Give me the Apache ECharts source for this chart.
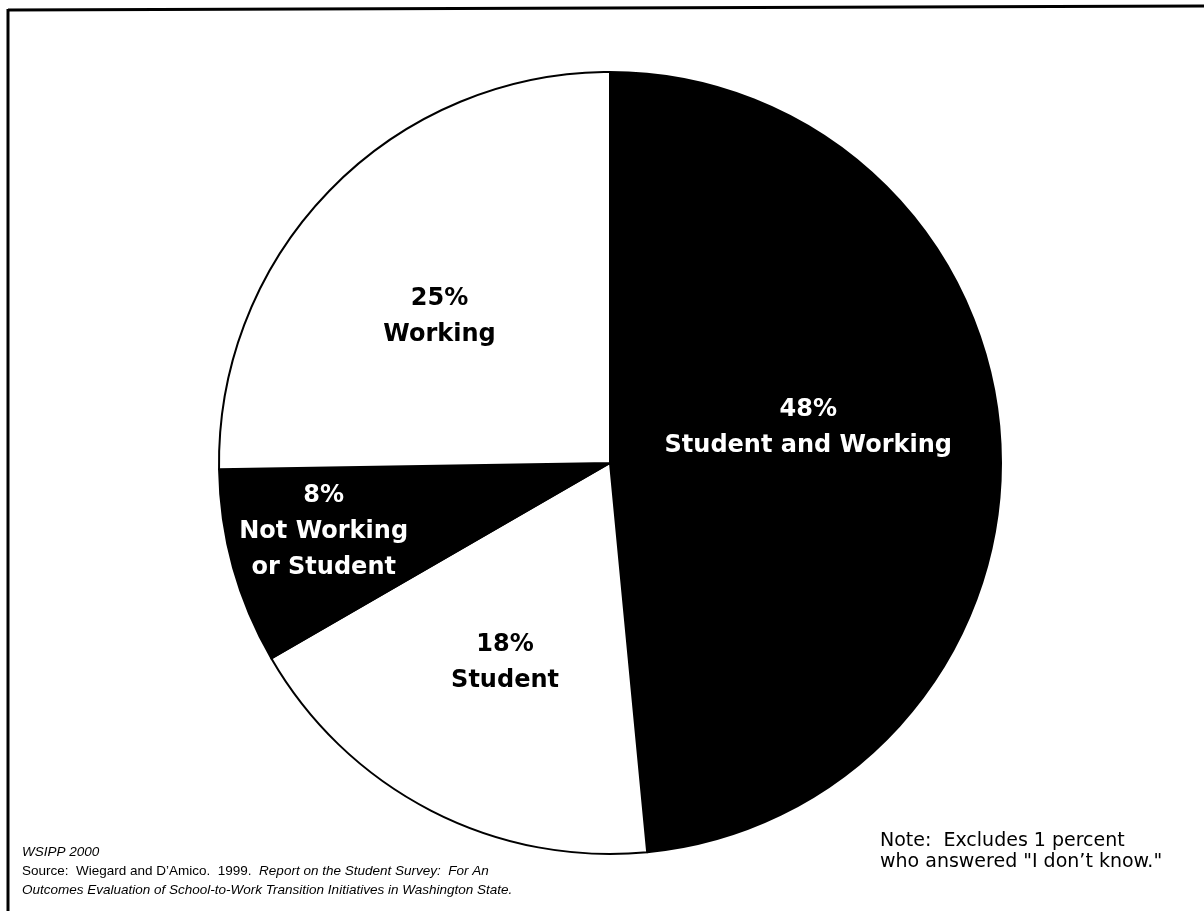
<!DOCTYPE html>
<html>
<head>
<meta charset="utf-8">
<script src="https://cdn.jsdelivr.net/npm/echarts@6/dist/echarts.min.js"></script>
<style>
  html, body { margin: 0; padding: 0; background: #fff; }
  #chart { width: 1204px; height: 911px; }
</style>
</head>
<body>
<div id="chart"></div>
<script>
// Post-program status of surveyed students (percent); 1 percent "don't know" excluded.
const categories = ['Student and Working', 'Student', 'Not Working\nor Student', 'Working'];
const percents = [48, 18, 8, 25];
const sliceFills = ['#000000', '#ffffff', '#000000', '#ffffff'];
const labelColors = ['#ffffff', '#000000', '#ffffff', '#000000'];
// nudges from the default inside-label anchor, per slice
const labelNudges = [[0, -26], [-14, 23], [-95, 16], [-29, -7]];

const noteLines = ['Note:  Excludes 1 percent', 'who answered "I don\u2019t know."'];
const creditLine = 'WSIPP 2000';
const sourcePlain = 'Source:  Wiegard and D\u2019Amico.  1999.  ';
const sourceItalic1 = 'Report on the Student Survey:  For An';
const sourceItalic2 = 'Outcomes Evaluation of School-to-Work Transition Initiatives in Washington State.';

const FONT = '"Liberation Sans", Arial, Helvetica, sans-serif';
const WIDE = '"DejaVu Sans", "Liberation Sans", Arial, sans-serif';

const chart = echarts.init(document.getElementById('chart'), null, { renderer: 'canvas' });

const pieData = categories.map((name, i) => ({
  name: name,
  value: percents[i],
  itemStyle: { color: sliceFills[i] },
  label: {
    color: labelColors[i],
    offset: labelNudges[i]
  }
}));

chart.setOption({
  animation: false,
  backgroundColor: '#ffffff',
  series: [{
    type: 'pie',
    center: [610, 463],
    radius: 391,
    startAngle: 90,
    clockwise: true,
    avoidLabelOverlap: false,
    silent: true,
    itemStyle: { borderColor: '#000000', borderWidth: 2 },
    label: {
      show: true,
      position: 'inside',
      fontFamily: WIDE,
      fontWeight: 'bold',
      fontSize: 24,
      lineHeight: 36,
      align: 'center',
      formatter: p => p.value + '%\n' + p.name
    },
    labelLine: { show: false },
    data: pieData
  }],
  graphic: [
    // frame edges
    { type: 'line', shape: { x1: 8, y1: 10, x2: 1204, y2: 6 }, style: { stroke: '#000', lineWidth: 3 } },
    { type: 'line', shape: { x1: 8, y1: 9, x2: 8, y2: 911 }, style: { stroke: '#000', lineWidth: 3 } },
    // note, lower right
    {
      type: 'text', left: 880, top: 831,
      style: { text: noteLines.join('\n'), font: '19px ' + WIDE, fill: '#000', lineHeight: 21 }
    },
    // credit and source, lower left
    {
      type: 'text', left: 22, top: 845,
      style: {
        text: '{i|' + creditLine + '}\n{n|' + sourcePlain + '}{i|' + sourceItalic1 + '}\n{i|' + sourceItalic2 + '}',
        fill: '#000',
        rich: {
          n: { fontFamily: FONT, fontSize: 13.5, lineHeight: 19, fill: '#000' },
          i: { fontFamily: FONT, fontSize: 13.5, fontStyle: 'italic', lineHeight: 19, fill: '#000' }
        }
      }
    }
  ]
});
</script>
</body>
</html>
